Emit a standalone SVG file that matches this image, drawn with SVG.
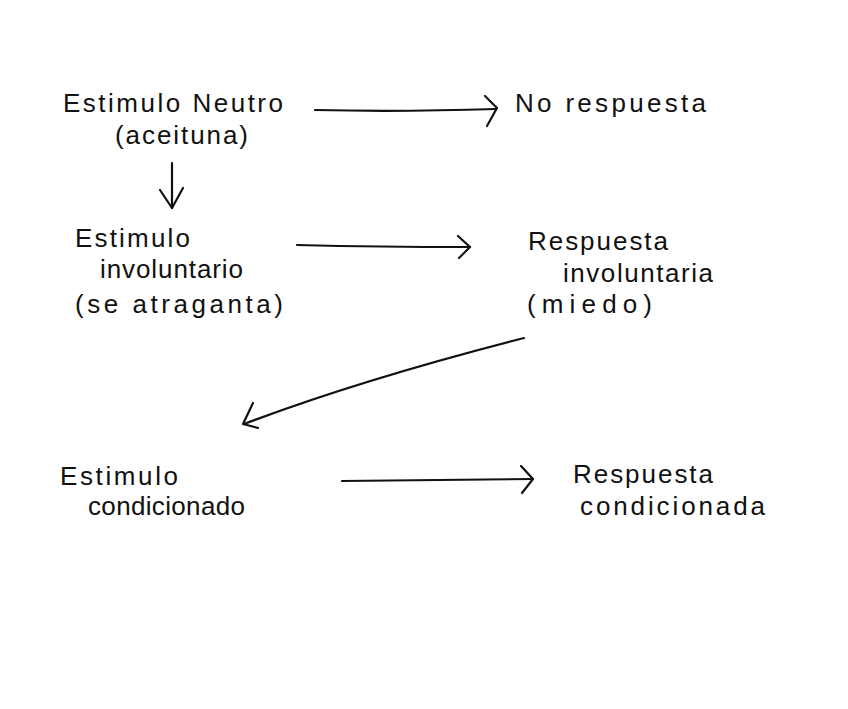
<svg xmlns="http://www.w3.org/2000/svg" width="848" height="709" viewBox="0 0 848 709">
<style>
text{font-family:"Liberation Sans",Arial,sans-serif;font-size:26px;fill:#111;}
.c{fill:none;stroke:#111;stroke-width:2.2;stroke-linecap:round;stroke-linejoin:round;}
</style>
<rect width="848" height="709" fill="#fff"/>
<g id="n1"><text x="63" y="112" textLength="220" lengthAdjust="spacing">Estimulo Neutro</text><text x="115" y="144" textLength="133" lengthAdjust="spacing">(aceituna)</text></g>
<g id="n2"><text x="515" y="112" textLength="191" lengthAdjust="spacing">No respuesta</text></g>
<g id="n3"><text x="75" y="247" textLength="115" lengthAdjust="spacing">Estimulo</text><text x="100" y="278" textLength="143" lengthAdjust="spacing">involuntario</text><text x="75" y="313" textLength="208" lengthAdjust="spacing">(se atraganta)</text></g>
<g id="n4"><text x="528" y="250" textLength="140" lengthAdjust="spacing">Respuesta</text><text x="563" y="282" textLength="150" lengthAdjust="spacing">involuntaria</text><text x="527" y="313" textLength="125" lengthAdjust="spacing">(miedo)</text></g>
<g id="n5"><text x="60" y="485" textLength="118" lengthAdjust="spacing">Estimulo</text><text x="88" y="515" textLength="157" lengthAdjust="spacing">condicionado</text></g>
<g id="n6"><text x="573" y="483" textLength="140" lengthAdjust="spacing">Respuesta</text><text x="580" y="515" textLength="185" lengthAdjust="spacing">condicionada</text></g>
<g id="connectors">
<path class="c" d="M315 110 Q400 112 496 109"/><path class="c" d="M485 96 L497 108 L487 126"/>
<path class="c" d="M172 163 L172 208"/><path class="c" d="M160 190 L172 208 L183 188"/>
<path class="c" d="M297 245 Q380 247 470 247"/><path class="c" d="M458 236 L470 247 L459 258"/>
<path class="c" d="M524 338 Q360 380 244 424"/><path class="c" d="M253 403 L243 424 L258 428"/>
<path class="c" d="M342 481 Q440 480 533 479"/><path class="c" d="M521 466 L533 479 L522 493"/>
</g>
</svg>
